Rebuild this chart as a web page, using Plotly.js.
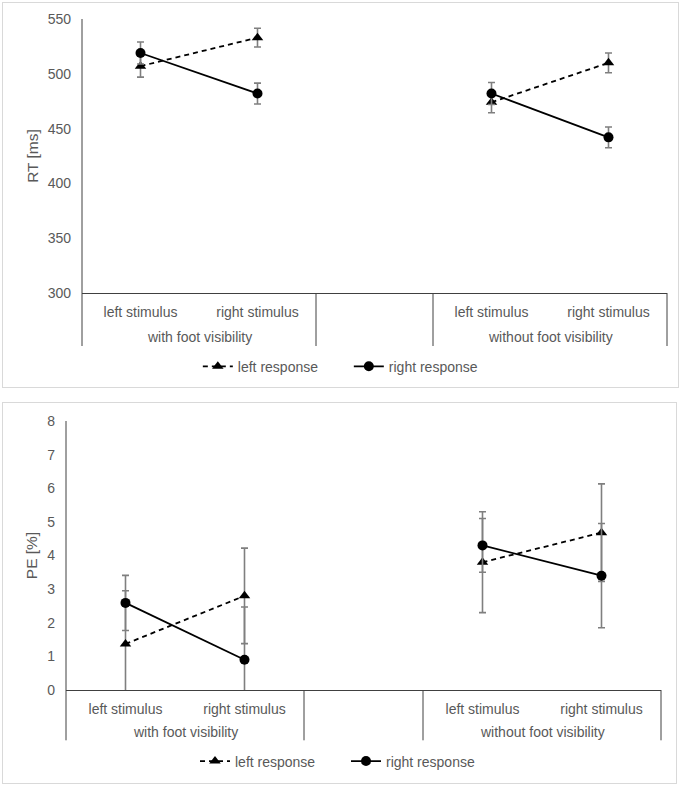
<!DOCTYPE html>
<html>
<head>
<meta charset="utf-8">
<script src="https://cdn.plot.ly/plotly-3.0.1.min.js"></script>
<style>
  html, body { margin: 0; padding: 0; background: #ffffff; width: 685px; height: 789px; overflow: hidden; }
  .frame { position: absolute; box-sizing: border-box; border: 1.5px solid #d9d9d9; pointer-events: none; }
  .plot { position: absolute; left: 0; }
</style>
</head>
<body>
<div class="frame" style="left:2px; top:2px; width:677px; height:386px;"></div>
<div class="frame" style="left:2px; top:402px; width:675px; height:382px;"></div>
<div id="rt" class="plot" style="top:0px; width:685px; height:395px;"></div>
<div id="pe" class="plot" style="top:395px; width:685px; height:394px;"></div>
<script>
// ---- data ----
const categories = ["left stimulus", "right stimulus", "", "left stimulus", "right stimulus"];
const groupLabels = ["with foot visibility", "", "without foot visibility"];
const groupSpans = [[0, 1], [2, 2], [3, 4]];   // category index ranges of each group
const seriesNames = ["left response", "right response"];

const rtLeftResponse = [507, 533, null, 474, 510];
const rtLeftResponseErr = [10, 8.5, null, 9.5, 9];
const rtRightResponse = [519, 482, null, 482, 442];
const rtRightResponseErr = [10, 9.5, null, 10, 9.5];

const peLeftResponse = [1.37, 2.80, null, 3.80, 4.68];
const peLeftResponseErr = [1.58, 1.42, null, 1.50, 1.45];
const peRightResponse = [2.59, 0.90, null, 4.30, 3.40];
const peRightResponseErr = [0.82, 1.57, null, 0.80, 1.55];

const rtTicks = [300, 350, 400, 450, 500, 550];
const peTicks = [0, 1, 2, 3, 4, 5, 6, 7, 8];

// ---- styling ----
const FONT = '"Liberation Sans", Arial, sans-serif';
const TXT = '#595959';
const AXIS = '#404040';
const ERR = '#7f7f7f';
const xIdx = categories.map((c, i) => i);
const nCat = categories.length;

function makeTraces(leftVals, leftErr, rightVals, rightErr) {
  return [
    {
      type: 'scatter', mode: 'lines+markers', name: seriesNames[0],
      x: xIdx, y: leftVals,
      line: { color: '#000000', width: 1.8, dash: '5px,4px' },
      marker: { symbol: 'triangle-up', size: 10, color: '#000000' },
      error_y: { type: 'data', array: leftErr, visible: true, color: ERR, thickness: 1.6, width: 3.5 }
    },
    {
      type: 'scatter', mode: 'lines+markers', name: seriesNames[1],
      x: xIdx, y: rightVals,
      line: { color: '#000000', width: 1.8 },
      marker: { symbol: 'circle', size: 10, color: '#000000' },
      error_y: { type: 'data', array: rightErr, visible: true, color: ERR, thickness: 1.6, width: 3.5 }
    }
  ];
}

function makeLayout(opt) {
  const shapes = [];
  const bounds = [0];
  groupSpans.forEach(s => bounds.push((s[1] + 1) / nCat));
  bounds.forEach(b => {
    shapes.push({ type: 'line', xref: 'paper', yref: 'paper', x0: b, x1: b, y0: b === 0 ? 1 : 0, y1: -opt.divDepth,
      line: { color: AXIS, width: 1 } });
  });
  const annotations = groupLabels.map((g, i) => ({
    xref: 'x', yref: 'paper', x: (groupSpans[i][0] + groupSpans[i][1]) / 2, y: opt.groupY,
    text: g, showarrow: false, xanchor: 'center', yanchor: 'middle',
    font: { family: FONT, size: 14, color: TXT }
  })).filter(a => a.text !== '');
  return {
    width: 685, height: opt.height,
    margin: opt.margin,
    paper_bgcolor: 'rgba(0,0,0,0)', plot_bgcolor: 'rgba(0,0,0,0)',
    font: { family: FONT, size: 14, color: TXT },
    showlegend: true,
    legend: { orientation: 'h', x: opt.legendX, y: opt.legendY, xanchor: 'left', yanchor: 'middle',
      font: { family: FONT, size: 14, color: TXT }, bgcolor: 'rgba(0,0,0,0)', itemwidth: 30,
      entrywidth: 106, entrywidthmode: 'pixels' },
    xaxis: {
      type: 'linear', range: [-0.5, nCat - 0.5], tickmode: 'array', tickvals: xIdx, ticktext: categories,
      showgrid: false, zeroline: false, showline: true, linecolor: AXIS, linewidth: 1, ticks: '',
      ticklabelstandoff: opt.xStandoff, tickfont: { family: FONT, size: 14, color: TXT }, fixedrange: true
    },
    yaxis: {
      range: opt.yRange, tickmode: 'array', tickvals: opt.yTicks,
      showgrid: false, zeroline: false, showline: false, ticks: '',
      ticklabelstandoff: opt.yStandoff, tickfont: { family: FONT, size: 14, color: TXT },
      title: { text: opt.yTitle, standoff: 5, font: { family: FONT, size: 15.5, color: TXT } }, fixedrange: true
    },
    shapes: shapes,
    annotations: annotations
  };
}

Plotly.newPlot('rt', makeTraces(rtLeftResponse, rtLeftResponseErr, rtRightResponse, rtRightResponseErr),
  makeLayout({
    height: 395, margin: { l: 82, r: 18, t: 19, b: 102, pad: 0 },
    yRange: [300, 550], yTicks: rtTicks, yTitle: 'RT [ms]',
    divDepth: 53 / 274, groupY: -43.7 / 274, legendX: 0.198, legendY: -73.7 / 274,
    xStandoff: 6, yStandoff: 10
  }), { staticPlot: true });

Plotly.newPlot('pe', makeTraces(peLeftResponse, peLeftResponseErr, peRightResponse, peRightResponseErr),
  makeLayout({
    height: 394, margin: { l: 66, r: 24, t: 26, b: 97, pad: 0 },
    yRange: [0, 8], yTicks: peTicks, yTitle: 'PE [%]',
    divDepth: 50.7 / 271, groupY: -42 / 271, legendX: (195 - 66) / 595, legendY: -72 / 271,
    xStandoff: 6, yStandoff: 10
  }), { staticPlot: true });
</script>
</body>
</html>
